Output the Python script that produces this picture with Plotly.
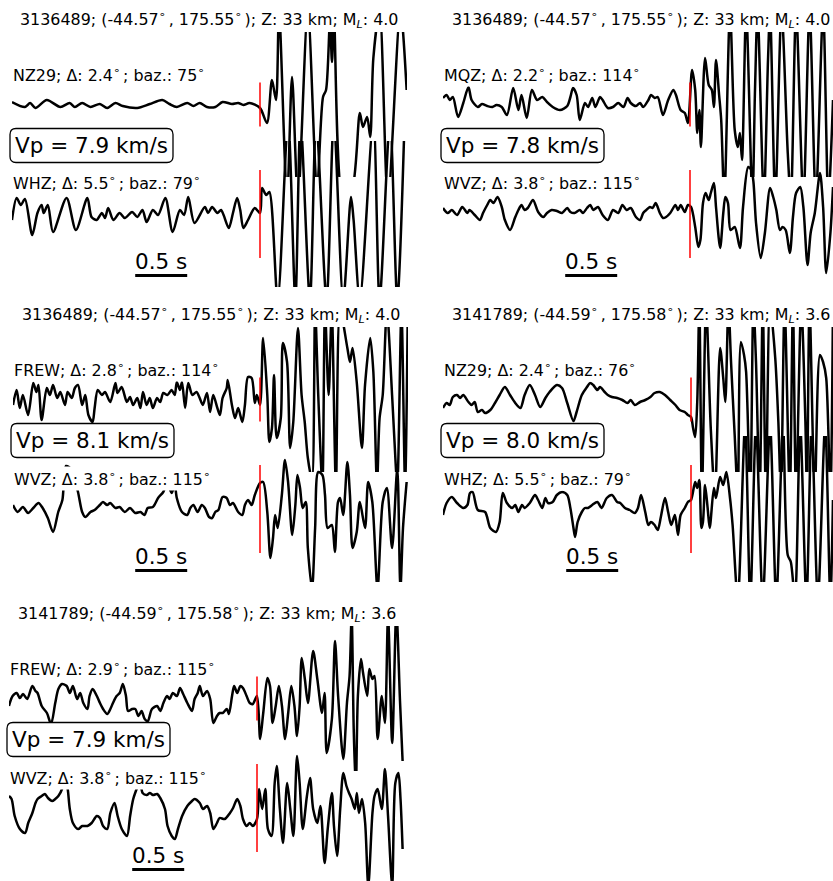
import plotly.graph_objects as go

# ---------------------------------------------------------------------------
# Event / station metadata, one entry per panel
# ---------------------------------------------------------------------------
EVENT_ID = ["3136489", "3136489", "3136489", "3141789", "3141789"]
EVENT_LAT = [-44.57, -44.57, -44.57, -44.59, -44.59]
EVENT_LON = [175.55, 175.55, 175.55, 175.58, 175.58]
EVENT_DEPTH_KM = [33, 33, 33, 33, 33]
EVENT_ML = [4.0, 4.0, 4.0, 3.6, 3.6]
VP_KMS = [7.9, 7.8, 8.1, 8.0, 7.9]

NEAR_STA = ["NZ29", "MQZ", "FREW", "NZ29", "FREW"]
NEAR_DIST = [2.4, 2.2, 2.8, 2.4, 2.9]
NEAR_BAZ = [75, 114, 114, 76, 115]
FAR_STA = ["WHZ", "WVZ", "WVZ", "WHZ", "WVZ"]
FAR_DIST = [5.5, 3.8, 3.8, 5.5, 3.8]
FAR_BAZ = [79, 115, 115, 79, 115]

SCALE_BAR_S = 0.5

# ---------------------------------------------------------------------------
# Waveforms: time relative to the P pick [s], normalised amplitude
# ---------------------------------------------------------------------------
p1_nz29_t = [-2.385, -2.26, -2.21, -2.16, -2.05, -1.92, -1.83, -1.78, -1.71, -1.63,
             -1.54, -1.47, -1.39, -1.32, -1.18, -1.06, -0.94, -0.87, -0.80, -0.70,
             -0.64, -0.58, -0.51, -0.43, -0.36, -0.27, -0.21, -0.16, -0.10, 0.0,
             0.067, 0.115, 0.154, 0.183, 0.26, 0.308, 0.365, 0.46, 0.548, 0.606,
             0.635, 0.673, 0.692, 0.712, 0.80, 0.885, 0.96, 0.99, 1.03, 1.06,
             1.09, 1.15, 1.23, 1.35, 1.41]
p1_nz29_amp = [0.25, -0.25, 0.15, -0.35, 0.45, -0.25, 0.15, -0.25, 0.15, -0.25,
               0.05, -0.35, 0.15, -0.15, -0.35, 0.05, 0.45, 0.05, -0.25, 0.15,
               -0.15, 0.15, -0.25, -0.25, 0.25, 0.05, 0.15, -0.05, 0.15, -0.35,
               -1.85, 2.45, 0.45, 9.45, -9.55, 2.75, -9.55, 9.45, -8.55, 0.75,
               1.45, 8.45, 4.25, 8.45, -9.55, -8.55, -0.85, -2.25, -1.25, -3.25,
               4.65, 9.45, -9.55, 9.45, 1.45]

p1_whz_t = [-2.385, -2.34, -2.30, -2.26, -2.19, -2.14, -2.10, -2.08, -2.04, -1.99,
            -1.86, -1.77, -1.66, -1.62, -1.57, -1.52, -1.49, -1.46, -1.41, -1.35,
            -1.30, -1.23, -1.18, -1.13, -1.09, -1.03, -0.98, -0.91, -0.84, -0.77,
            -0.73, -0.69, -0.63, -0.53, -0.50, -0.46, -0.41, -0.375, -0.35, -0.30,
            -0.26, -0.22, -0.19, -0.16, -0.115, -0.05, 0.0,
            0.02, 0.06, 0.09, 0.17, 0.27, 0.34, 0.39, 0.48, 0.54, 0.64,
            0.71, 0.80, 0.875, 0.90, 0.96, 1.09, 1.15, 1.25, 1.32, 1.39]
p1_whz_amp = [-0.6, 1.6, 0.9, 1.5, -2.1, 0.1, 0.9, 0.1, 0.9, -1.8,
              1.6, -1.6, 1.6, -0.3, -0.6, 0.1, -0.4, 0.6, -0.6, 0.1,
              -0.4, 0.2, -0.3, 0.4, -0.8, 0.4, -0.1, 1.6, -1.8, 0.4,
              -0.1, 1.7, -0.9, 0.7, 0.1, 0.7, 0.1, 0.4, -0.1, -1.4,
              0.1, 1.6, 0.4, -1.4, -0.6, 0.6, 0.1,
              2.6, 1.9, 2.2, -8.6, 9.4, -8.6, 9.4, -8.6, 9.4, -8.6,
              9.4, -8.6, 1.7, -0.6, -8.6, 9.4, -8.6, 9.4, -8.6, 9.4]

p2_mqz_t = [-2.375, -2.34, -2.31, -2.28, -2.23, -2.18, -2.13, -2.10, -2.04, -2.00,
            -1.95, -1.90, -1.86, -1.81, -1.76, -1.70, -1.65, -1.62, -1.57, -1.52,
            -1.47, -1.42, -1.375, -1.32, -1.25, -1.18, -1.15, -1.125, -1.09, -1.06,
            -1.01, -0.98, -0.94, -0.91, -0.865, -0.84, -0.79, -0.74, -0.69, -0.64,
            -0.60, -0.57, -0.52, -0.48, -0.45, -0.40, -0.375, -0.34, -0.31, -0.26,
            -0.21, -0.16, -0.135, -0.09, -0.05, -0.02,
            0.02, 0.05, 0.07, 0.09, 0.105, 0.145, 0.18, 0.21, 0.23, 0.25,
            0.28, 0.30, 0.33, 0.385, 0.43, 0.46, 0.48, 0.50, 0.54, 0.60,
            0.625, 0.65, 0.71, 0.75, 0.77, 0.82, 0.88, 0.94, 0.97, 1.02,
            1.09, 1.15, 1.21, 1.28, 1.33, 1.375]
p2_mqz_amp = [0.65, 0.95, 0.45, 0.75, -1.25, 0.15, 1.75, 0.45, -0.25, 0.05,
              -0.15, -0.25, -0.05, -0.25, -1.05, 1.65, -0.55, 0.95, -1.35, 1.45,
              0.45, 0.75, 0.25, -0.25, -0.55, -0.15, 0.75, 1.65, 0.95, -1.55,
              0.15, -0.25, 0.65, -0.25, 0.75, 0.45, -0.35, -0.25, 0.15, -0.25,
              0.65, 0.15, -0.15, 0.15, -0.25, 0.45, 0.95, 0.65, 0.75, -1.05,
              0.45, 1.45, 0.95, -0.55, -0.85, -1.85,
              3.45, 1.45, -2.85, -0.55, -4.25, 4.65, 1.95, 1.45, -0.25, 4.45,
              0.95, -1.55, -9.55, 9.45, -2.55, -4.25, -2.85, -5.55, 9.45, -9.55,
              1.45, 9.45, -9.55, 4.45, 9.45, -9.55, 9.45, -4.85, -9.55, 9.45,
              -9.55, 9.45, -9.55, 9.45, -9.55, 0.45]

p2_wvz_t = [-2.375, -2.33, -2.29, -2.24, -2.19, -2.14, -2.12, -2.07, -2.02, -1.99,
            -1.95, -1.92, -1.89, -1.85, -1.81, -1.78, -1.73, -1.68, -1.65, -1.62,
            -1.59, -1.56, -1.51, -1.46, -1.41, -1.375, -1.33, -1.28, -1.23, -1.18,
            -1.15, -1.11, -1.06, -1.03, -0.99, -0.96, -0.93, -0.885, -0.84, -0.79,
            -0.74, -0.69, -0.65, -0.61, -0.57, -0.52, -0.48, -0.45, -0.42, -0.385,
            -0.36, -0.33, -0.29, -0.26, -0.23, -0.19, -0.14, -0.115, -0.09, -0.05,
            -0.02, 0.01,
            0.05, 0.08, 0.10, 0.125, 0.15, 0.18, 0.20, 0.23, 0.25, 0.29,
            0.32, 0.34, 0.365, 0.39, 0.43, 0.48, 0.51, 0.56, 0.59, 0.61,
            0.635, 0.68, 0.72, 0.77, 0.80, 0.83, 0.865, 0.89, 0.92, 0.96,
            0.99, 1.02, 1.06, 1.09, 1.13, 1.16, 1.20, 1.25, 1.28, 1.31,
            1.35, 1.375]
p2_wvz_amp = [0.6, 0.1, 0.4, -0.1, 0.7, 0.1, 0.4, -0.1, -0.6, 0.1,
              0.9, 1.4, 1.1, 1.7, 0.7, -0.6, -1.6, -0.3, 0.4, 0.9,
              0.4, 0.6, 1.4, 0.2, -0.3, 0.1, 0.4, 0.3, 0.1, 0.6,
              0.2, 0.1, 0.4, 0.1, 0.6, 0.9, 0.4, 0.7, -0.1, -0.6,
              0.4, 0.1, 0.9, 0.4, 0.6, -0.3, -0.6, 0.1, 0.4, 0.7,
              0.6, 1.1, 0.1, -0.4, -0.3, 0.1, 0.9, 0.4, 0.9, 0.2,
              0.9, 0.7,
              -1.3, -3.3, -2.6, 1.1, 2.1, 1.4, 2.1, 3.1, 0.7, -3.4,
              0.1, 1.7, 1.1, -1.6, -1.3, -3.4, 0.7, 4.7, 4.4, 3.2,
              -0.9, -4.4, -1.9, 2.6, 1.7, 0.4, -1.6, -1.3, -1.6, -3.9,
              -0.3, 2.1, 2.7, 0.7, -5.1, -1.9, 0.1, 4.1, 0.7, -5.9,
              -1.9, 2.7]

p3_frew_t = [-2.375, -2.34, -2.31, -2.28, -2.23, -2.18, -2.15, -2.13, -2.10, -2.05,
             -2.02, -1.99, -1.95, -1.92, -1.875, -1.85, -1.81, -1.78, -1.75, -1.71,
             -1.68, -1.65, -1.61, -1.59, -1.56, -1.52, -1.49, -1.44, -1.39, -1.37,
             -1.33, -1.28, -1.25, -1.22, -1.18, -1.15, -1.125, -1.09, -1.06, -1.03,
             -0.99, -0.96, -0.93, -0.89, -0.85, -0.82, -0.80, -0.77, -0.75, -0.72,
             -0.69, -0.65, -0.61, -0.58, -0.55, -0.51, -0.48, -0.45, -0.41, -0.385,
             -0.36, -0.32, -0.31, -0.27, -0.24, -0.21, -0.17, -0.145, -0.115, -0.08,
             -0.05, -0.03, 0.0,
             0.03, 0.07, 0.09, 0.115, 0.135, 0.16, 0.20, 0.22, 0.26, 0.29,
             0.32, 0.365, 0.40, 0.43, 0.46, 0.50, 0.53, 0.56, 0.60, 0.625,
             0.66, 0.69, 0.73, 0.77, 0.84, 0.865, 0.89, 0.93, 0.98, 1.01,
             1.06, 1.09, 1.125, 1.15, 1.18, 1.22, 1.27, 1.29, 1.32, 1.36,
             1.395, 1.42]
p3_frew_amp = [-0.55, 0.95, -0.85, 0.45, -1.55, 1.65, 0.75, 1.45, -2.05, 1.15,
               0.45, 1.45, 0.15, 0.75, -0.55, 0.75, 0.15, 1.15, 1.45, -0.55,
               0.45, -1.55, -2.25, -0.85, 0.95, 0.45, 0.75, -0.25, 1.65, 0.65,
               1.25, -0.25, 0.25, -0.55, 0.15, -0.85, 0.75, -0.55, 0.15, -0.85,
               0.15, -0.25, 0.65, 0.45, 0.95, 0.45, 1.75, 0.95, 1.75, -0.85,
               1.65, 0.45, 0.75, 0.15, -0.55, 0.65, -1.25, 0.45, -0.85, -1.55,
               0.15, 1.15, 1.95, -0.55, -1.85, -0.85, -2.25, -0.55, 2.25, 2.15,
               -0.35, 0.45, -0.55,
               6.15, 0.45, -4.25, -2.85, 2.45, -3.85, -1.85, 5.65, 3.75, -4.85,
               -2.25, 7.15, 0.45, -2.25, -5.85, -8.05, 8.95, 0.45, -8.55, 8.95,
               0.45, 8.95, -8.55, 8.95, 5.15, 3.75, 5.15, 1.75, -4.85, 1.45,
               6.15, 2.75, -8.55, -1.85, 0.45, 8.95, 0.45, -3.55, -8.55, 8.95,
               -8.55, 7.95]

p3_wvz_t = [-2.375, -2.33, -2.28, -2.23, -2.18, -2.13, -2.09, -2.04, -1.99, -1.94,
            -1.90, -1.865, -1.81, -1.75, -1.71, -1.68, -1.63, -1.59, -1.54, -1.51,
            -1.47, -1.44, -1.39, -1.35, -1.30, -1.25, -1.20, -1.15, -1.11, -1.08,
            -1.03, -0.98, -0.93, -0.89, -0.85, -0.82, -0.80, -0.75, -0.70, -0.67,
            -0.64, -0.60, -0.56, -0.53, -0.49, -0.46, -0.43, -0.40, -0.36, -0.32,
            -0.29, -0.26, -0.21, -0.17, -0.145, -0.115, -0.08, -0.05, 0.0,
            0.03, 0.07, 0.10, 0.125, 0.145, 0.17, 0.21, 0.24, 0.27, 0.31,
            0.34, 0.36, 0.385, 0.41, 0.44, 0.46, 0.50, 0.53, 0.56, 0.60,
            0.625, 0.65, 0.69, 0.72, 0.75, 0.77, 0.80, 0.84, 0.865, 0.89,
            0.93, 0.96, 1.01, 1.04, 1.08, 1.13, 1.18, 1.22, 1.27, 1.32,
            1.35, 1.375, 1.41]
p3_wvz_amp = [0.4, -0.3, 0.2, -0.4, 0.1, 0.6, 0.1, -0.9, -2.3, -0.3,
              0.9, 4.3, 3.9, 1.7, -0.3, -0.8, -0.3, -0.1, 0.4, 0.7,
              0.4, 0.6, 0.1, 0.2, -0.3, 0.1, -0.4, -0.3, -0.6, 0.1,
              0.2, 1.1, 1.7, 2.6, 1.6, 2.4, 1.1, -0.3, -0.6, 0.1,
              0.4, -0.3, 0.4, 0.1, -0.8, -0.9, -0.3, -0.1, 1.2, 1.1,
              0.4, 0.6, -0.3, -0.6, 0.4, 0.9, 0.4, 1.4, 2.6,
              2.7, -0.3, -4.9, -2.9, -0.6, -1.9, 1.4, 4.9, 2.7, -2.6,
              0.4, 3.4, 2.1, 0.1, 0.7, -3.9, -8.0, -1.9, 3.7, 3.4,
              1.4, -1.9, -1.6, -4.3, 0.7, 1.1, -0.6, 4.7, 1.4, -3.9,
              -2.3, 0.7, -1.9, 2.7, 0.7, -8.0, 0.7, 2.1, -3.9, 4.1,
              -8.0, -1.9, 2.7]

p4_nz29_t = [-2.385, -2.35, -2.32, -2.29, -2.25, -2.22, -2.19, -2.14, -2.11, -2.08,
             -2.05, -2.01, -1.98, -1.93, -1.885, -1.84, -1.79, -1.74, -1.69, -1.64,
             -1.60, -1.55, -1.50, -1.45, -1.40, -1.36, -1.29, -1.24, -1.19, -1.13,
             -1.10, -1.05, -1.00, -0.97, -0.94, -0.90, -0.875, -0.83, -0.80, -0.76,
             -0.71, -0.66, -0.61, -0.58, -0.54, -0.49, -0.44, -0.39, -0.35, -0.30,
             -0.25, -0.20, -0.15, -0.11, -0.06, -0.03, 0.0,
             0.02, 0.04, 0.06, 0.08, 0.105, 0.145, 0.19, 0.23, 0.28, 0.31,
             0.33, 0.36, 0.385, 0.42, 0.45, 0.48, 0.51, 0.53, 0.57, 0.60,
             0.625, 0.66, 0.69, 0.72, 0.76, 0.81, 0.84, 0.865, 0.90, 0.95,
             0.98, 1.01, 1.06, 1.10, 1.115, 1.14, 1.19, 1.24, 1.27, 1.30,
             1.34, 1.365]
p4_nz29_amp = [-0.85, -0.35, -0.55, 0.25, 0.45, 0.15, 0.45, -0.25, -0.55, -0.25,
               -1.25, -1.05, -1.35, -1.05, -0.35, 0.45, 1.25, 0.45, -0.35, -0.85,
               0.45, 1.45, 0.45, -0.75, 0.15, 0.75, 1.45, 1.15, -0.35, -2.15,
               -1.25, 0.45, 1.25, 1.65, 1.45, 0.95, 1.25, 0.75, 0.45, 0.25,
               0.15, -0.05, -0.35, -0.05, -0.55, -0.25, -0.05, 0.25, 0.65, 0.75,
               0.45, -0.05, -0.55, -1.05, -1.25, -1.55, -1.75,
               -2.85, -3.75, -0.25, 9.45, -9.55, 9.45, -2.85, -9.55, 5.15, 2.15,
               -0.25, 9.45, 3.75, -3.55, -9.55, 5.75, 4.45, 2.75, -9.55, 9.45,
               3.75, -9.55, 9.45, -9.55, 9.45, 4.15, -2.25, -9.55, 9.45, -9.55,
               9.45, -9.55, 9.45, -2.25, -9.55, 9.45, -9.55, 4.45, 3.75, 2.15,
               -9.55, 9.45]

p4_whz_t = [-2.385, -2.35, -2.30, -2.25, -2.19, -2.15, -2.125, -2.10, -2.05, -1.98,
            -1.93, -1.875, -1.84, -1.81, -1.77, -1.72, -1.69, -1.66, -1.625, -1.60,
            -1.55, -1.50, -1.47, -1.43, -1.40, -1.375, -1.33, -1.29, -1.24, -1.19,
            -1.16, -1.13, -1.115, -1.09, -1.05, -1.02, -0.99, -0.95, -0.90, -0.86,
            -0.81, -0.76, -0.71, -0.68, -0.635, -0.59, -0.54, -0.51, -0.48, -0.44,
            -0.41, -0.385, -0.35, -0.32, -0.29, -0.25, -0.22, -0.19, -0.155, -0.125,
            -0.10, -0.06, -0.03, 0.0,
            0.04, 0.06, 0.08, 0.10, 0.115, 0.135, 0.16, 0.18, 0.22, 0.24,
            0.28, 0.31, 0.34, 0.375, 0.40, 0.45, 0.52, 0.57, 0.625, 0.69,
            0.76, 0.82, 0.885, 0.93, 0.96, 1.00, 1.05, 1.11, 1.16, 1.22,
            1.29, 1.34, 1.365]
p4_whz_amp = [-0.6, 0.6, 1.2, 0.6, 0.1, 0.4, 1.6, 1.7, -0.1, -0.3,
              -1.9, -2.3, -1.3, 1.6, 0.6, 0.1, 0.4, -0.3, 0.4, 0.1,
              0.6, 1.4, 0.9, 0.1, 1.1, 0.6, 0.7, 1.4, 1.7, 1.4,
              0.1, -1.9, -2.8, -1.3, -0.3, 0.1, 0.1, 0.4, 0.7, 0.1,
              1.1, 1.4, 0.7, 0.6, 0.1, -0.1, -0.4, 0.1, 1.4, -0.3,
              -1.6, -1.3, -1.6, -2.1, -0.8, 1.1, -0.3, -1.6, -0.6, -2.6,
              -0.6, 0.1, 0.7, 0.9,
              2.7, 2.1, 2.9, -1.9, -1.3, 2.4, 0.1, -1.9, 2.1, 1.1,
              3.2, 2.4, 3.7, 1.1, -1.6, -9.1, 8.4, -9.1, 8.4, -9.1,
              8.4, -9.1, 8.4, -4.6, -5.3, -9.1, 8.4, -9.1, 8.4, -9.1,
              8.4, -9.1, 0.9]

p5_frew_t = [-2.385, -2.35, -2.31, -2.28, -2.25, -2.21, -2.16, -2.13, -2.11, -2.07,
             -2.02, -1.98, -1.94, -1.91, -1.875, -1.83, -1.80, -1.77, -1.73, -1.70,
             -1.67, -1.63, -1.61, -1.58, -1.54, -1.51, -1.48, -1.44, -1.41, -1.385,
             -1.35, -1.32, -1.29, -1.26, -1.24, -1.20, -1.17, -1.14, -1.11, -1.08,
             -1.05, -1.01, -0.96, -0.93, -0.90, -0.865, -0.84, -0.81, -0.77, -0.74,
             -0.71, -0.67, -0.625, -0.60, -0.57, -0.55, -0.52, -0.48, -0.45, -0.42,
             -0.385, -0.36, -0.33, -0.29, -0.27, -0.24, -0.22, -0.19, -0.16, -0.135,
             -0.10, -0.07, -0.04, 0.0,
             0.03, 0.06, 0.10, 0.125, 0.15, 0.18, 0.21, 0.24, 0.27, 0.30,
             0.33, 0.36, 0.385, 0.41, 0.43, 0.46, 0.49, 0.54, 0.58, 0.625,
             0.65, 0.67, 0.72, 0.75, 0.78, 0.83, 0.865, 0.89, 0.91, 0.93,
             0.95, 0.97, 1.00, 1.02, 1.06, 1.08, 1.11, 1.13, 1.16, 1.20,
             1.23, 1.26, 1.30, 1.34, 1.375, 1.40]
p5_frew_amp = [-0.75, 0.25, 0.55, 0.05, 0.45, -0.05, 1.25, 0.75, 0.55, -0.75,
               -1.45, -2.55, -0.45, 0.95, 1.45, 1.25, 0.55, 1.25, -0.05, 0.55,
               -0.45, -1.05, 0.25, 0.95, 0.25, -0.45, -1.05, -1.55, -1.05, -0.45,
               0.25, 0.55, 1.45, 0.25, -1.25, -1.05, -1.05, -1.75, -1.25, -2.05,
               -2.25, -1.05, -0.75, -1.25, -0.45, 0.25, -0.05, 0.55, 0.25, 1.05,
               0.45, -0.45, -1.25, -0.05, 0.55, 1.25, 0.25, 0.75, -0.05, -2.45,
               -1.75, -1.45, -1.45, -1.05, -1.55, 0.25, 1.25, 0.55, 1.25, 1.05,
               0.25, -0.45, -0.55, 0.25,
               -4.05, -1.45, 2.05, 1.25, -2.45, -0.75, 1.25, -0.75, -4.05, -1.45,
               1.25, -0.75, -3.75, -0.75, 4.05, 1.95, -0.45, 4.75, 1.95, -1.45,
               0.55, -5.45, -2.05, 5.75, 0.25, -6.05, -0.45, 2.25, 8.25, -3.05,
               -9.25, 0.25, 3.95, 2.55, 0.25, 2.95, 1.95, 2.25, -4.05, 0.25,
               -2.45, 8.25, -4.45, 8.75, -0.25, -6.25]

p5_wvz_t = [-2.385, -2.36, -2.33, -2.28, -2.23, -2.20, -2.16, -2.13, -2.11, -2.07,
            -2.04, -2.01, -1.97, -1.94, -1.91, -1.875, -1.85, -1.82, -1.80, -1.77,
            -1.72, -1.68, -1.63, -1.59, -1.54, -1.51, -1.48, -1.44, -1.41, -1.37,
            -1.34, -1.30, -1.25, -1.22, -1.19, -1.15, -1.125, -1.10, -1.06, -1.03,
            -1.00, -0.96, -0.93, -0.885, -0.86, -0.82, -0.79, -0.76, -0.72, -0.67,
            -0.625, -0.60, -0.55, -0.52, -0.48, -0.45, -0.42, -0.385, -0.36, -0.31,
            -0.26, -0.23, -0.19, -0.16, -0.135, -0.10, -0.07, -0.04, 0.0,
            0.02, 0.05, 0.08, 0.105, 0.14, 0.17, 0.19, 0.22, 0.25, 0.29,
            0.32, 0.35, 0.385, 0.41, 0.44, 0.48, 0.51, 0.54, 0.58, 0.61,
            0.65, 0.68, 0.72, 0.74, 0.77, 0.80, 0.83, 0.86, 0.885, 0.91,
            0.94, 0.96, 0.98, 1.01, 1.04, 1.07, 1.11, 1.13, 1.16, 1.20,
            1.23, 1.26, 1.30, 1.33, 1.36, 1.38, 1.40]
p5_wvz_amp = [1.2, 0.9, -0.8, -2.1, -2.5, -1.5, -0.5, 0.5, 0.9, 1.2,
              1.4, 1.0, 0.7, 0.9, 1.2, 1.9, 3.5, 1.9, -0.1, -1.5,
              -2.1, -1.8, -1.8, -1.5, -0.8, -1.0, -1.8, -2.1, -0.5, 0.5,
              -0.8, -2.1, -2.8, -0.8, 0.9, 2.1, 2.7, 1.5, 1.3, 1.5,
              1.3, 1.4, 1.0, -0.1, -1.8, -2.8, -3.1, -2.1, -0.8, 0.2,
              0.7, 0.9, 0.5, -0.1, 0.2, -0.5, -2.1, -1.5, -1.0, -1.1,
              -0.5, 0.0, 0.9, 0.2, -1.1, -1.8, -1.5, -1.8, -1.1,
              1.9, -0.1, 1.9, -2.1, -2.8, 2.5, 4.2, -0.1, -3.5, 2.5,
              -0.1, -2.8, 5.2, 2.5, -2.1, 1.2, 3.0, -0.1, -1.5, 0.2,
              -5.5, -2.1, 1.5, -1.8, -4.8, -0.1, 3.5, 2.2, 1.5, 0.9,
              -0.1, 1.5, -0.5, 0.9, -1.5, -7.8, -0.5, 1.2, 1.9, -0.1,
              3.9, -0.8, -7.8, 2.5, 3.5, 0.9, -4.1]

WAVES = [
    ((p1_nz29_t, p1_nz29_amp), (p1_whz_t, p1_whz_amp)),
    ((p2_mqz_t, p2_mqz_amp), (p2_wvz_t, p2_wvz_amp)),
    ((p3_frew_t, p3_frew_amp), (p3_wvz_t, p3_wvz_amp)),
    ((p4_nz29_t, p4_nz29_amp), (p4_whz_t, p4_whz_amp)),
    ((p5_frew_t, p5_frew_amp), (p5_wvz_t, p5_wvz_amp)),
]

# ---------------------------------------------------------------------------
# Page geometry (pixels)
# ---------------------------------------------------------------------------
W, H = 833, 881
PX_PER_S = 104.0       # horizontal scale of each record section
PX_PER_UNIT = 10.0     # vertical scale of the normalised amplitude
WIN_PX = 395           # width of one record window
PANEL_X0 = [12, 443, 13, 443, 9]          # left edge of each window
PANEL_XPICK = [260, 690, 260, 691, 257]   # pick column
PANEL_ROW = [0, 0, 295, 295, 594]         # top of each panel
# clip band (top, bottom), zero line and pick-marker half height per trace slot
SLOTS = [
    dict(clip=(32, 177), centre=104.5, pick=2.2, label_y=74),
    dict(clip=(141, 287), centre=214.0, pick=4.4, label_y=183),
]
FONT = "DejaVu Sans"
SMALL = 15.9
LARGE = 21.5
DEG = "<sup>∘</sup>"
THIN = "\u2009"


def fx(px):
    return px / W


def fy(py):
    return 1.0 - py / H


def rounded_box(left, top, right, bottom, r):
    pts = [
        ("M", (left + r, top)), ("L", (right - r, top)),
        ("Q", (right, top), (right, top + r)), ("L", (right, bottom - r)),
        ("Q", (right, bottom), (right - r, bottom)), ("L", (left + r, bottom)),
        ("Q", (left, bottom), (left, bottom - r)), ("L", (left, top + r)),
        ("Q", (left, top), (left + r, top)),
    ]
    parts = []
    for cmd, *xy in pts:
        coords = " ".join(f"{fx(x):.5f},{fy(y):.5f}" for x, y in xy)
        parts.append(f"{cmd} {coords}")
    return " ".join(parts) + " Z"


fig = go.Figure()
shapes, annotations = [], []
axes = {}
n = 0
for i in range(5):
    x0, xp, row = PANEL_X0[i], PANEL_XPICK[i], PANEL_ROW[i]
    x1 = min(x0 + WIN_PX, W)
    t_lo, t_hi = (x0 - xp) / PX_PER_S, (x1 - xp) / PX_PER_S

    labels = [
        f"{NEAR_STA[i]}; Δ: {NEAR_DIST[i]:.1f}{DEG}{THIN}; baz.: {NEAR_BAZ[i]}{DEG}",
        f"{FAR_STA[i]}; Δ: {FAR_DIST[i]:.1f}{DEG}{THIN}; baz.: {FAR_BAZ[i]}{DEG}",
    ]

    for k, (slot, (t, a)) in enumerate(zip(SLOTS, WAVES[i])):
        n += 1
        sfx = "" if n == 1 else str(n)
        top_px = row + slot["clip"][0]
        bot_px = min(row + slot["clip"][1], H)
        ctr = row + slot["centre"]
        fig.add_trace(go.Scatter(
            x=t, y=a, mode="lines", xaxis="x" + sfx, yaxis="y" + sfx,
            line=dict(color="black", width=2.5, shape="spline", smoothing=0.8),
            hoverinfo="skip", showlegend=False,
        ))
        axes["xaxis" + sfx] = dict(domain=[fx(x0), fx(x1)], range=[t_lo, t_hi],
                                   visible=False, anchor="y" + sfx, fixedrange=True)
        axes["yaxis" + sfx] = dict(domain=[fy(bot_px), fy(top_px)],
                                   range=[-(bot_px - ctr) / PX_PER_UNIT, (ctr - top_px) / PX_PER_UNIT],
                                   visible=False, anchor="x" + sfx, fixedrange=True)
        # P pick marker
        shapes.append(dict(type="line", xref="x" + sfx, yref="y" + sfx,
                           x0=0, x1=0, y0=-slot["pick"], y1=slot["pick"],
                           line=dict(color="red", width=1.5), layer="above"))
        # station label with a white backing
        annotations.append(dict(
            text=labels[k], xref="paper", yref="paper", x=fx(x0 - 1), y=fy(row + slot["label_y"]),
            xanchor="left", yanchor="middle", showarrow=False, bgcolor="white", borderpad=1,
            font=dict(family=FONT, size=SMALL, color="black"),
        ))
        if k == 1:
            # time scale bar
            shapes.append(dict(type="line", xref="x" + sfx, yref="paper",
                               x0=-1.2, x1=-1.2 + SCALE_BAR_S,
                               y0=fy(row + 275.5), y1=fy(row + 275.5),
                               line=dict(color="black", width=3), layer="above"))
            annotations.append(dict(
                text=f"{SCALE_BAR_S} s", xref="x" + sfx, yref="paper",
                x=-1.2 + SCALE_BAR_S / 2, y=fy(row + 261.5),
                xanchor="center", yanchor="middle", showarrow=False,
                font=dict(family=FONT, size=LARGE, color="black"),
            ))

    # event title
    annotations.append(dict(
        text=(f"{EVENT_ID[i]}; ({EVENT_LAT[i]:.2f}{DEG}{THIN}, {EVENT_LON[i]:.2f}{DEG}{THIN}); "
              f"Z: {EVENT_DEPTH_KM[i]} km; M<sub><i>L</i></sub>: {EVENT_ML[i]:.1f}"),
        xref="paper", yref="paper", x=fx(x0 + WIN_PX / 2), y=fy(row + 19.5),
        xanchor="center", yanchor="middle", showarrow=False,
        font=dict(family=FONT, size=SMALL, color="black"),
    ))

    # apparent velocity box
    bl, bt, br, bb = x0 - 2, row + 128.5, x0 + 161, row + 162.5
    shapes.append(dict(type="path", xref="paper", yref="paper",
                       path=rounded_box(bl, bt, br, bb, 6),
                       fillcolor="white", line=dict(color="black", width=1.3), layer="above"))
    annotations.append(dict(
        text=f"Vp = {VP_KMS[i]:.1f} km/s", xref="paper", yref="paper",
        x=fx((bl + br) / 2), y=fy((bt + bb) / 2),
        xanchor="center", yanchor="middle", showarrow=False,
        font=dict(family=FONT, size=LARGE, color="black"),
    ))

fig.update_layout(
    width=W, height=H, margin=dict(l=0, r=0, t=0, b=0),
    paper_bgcolor="white", plot_bgcolor="rgba(0,0,0,0)",
    shapes=shapes, annotations=annotations, showlegend=False,
    **axes,
)

fig.write_html("out.html", config={"displayModeBar": False})
